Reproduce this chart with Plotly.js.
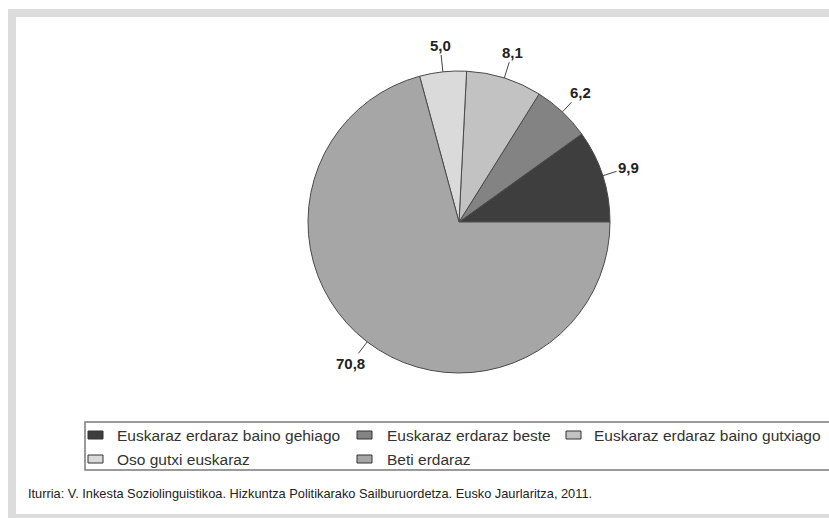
<!DOCTYPE html>
<html>
<head>
<meta charset="utf-8">
<script src="https://cdn.plot.ly/plotly-3.0.1.min.js"></script>
<style>html,body{margin:0;padding:0;background:#fff;}#chart{width:829px;height:518px;}</style>
</head>
<body>
<div id="chart"></div>
<script>
// Data
const categories = [
  "Euskaraz erdaraz baino gehiago",
  "Euskaraz erdaraz beste",
  "Euskaraz erdaraz baino gutxiago",
  "Oso gutxi euskaraz",
  "Beti erdaraz"
];
const values = [9.9, 6.2, 8.1, 5.0, 70.8];
const valueLabels = ["9,9", "6,2", "8,1", "5,0", "70,8"];
const sliceColors = ["#3e3e3e", "#838383", "#c2c2c2", "#dadada", "#a6a6a6"];
const sourceText = "Iturria: V. Inkesta Soziolinguistikoa. Hizkuntza Politikarako Sailburuordetza. Eusko Jaurlaritza, 2011.";

// Layout geometry (pixels)
const W = 829, H = 518;
const cx = 459, cy = 222, R = 151;
const px = x => x / W;
const py = y => 1 - y / H;
const total = values.reduce((a, b) => a + b, 0);

const trace = {
  type: "pie",
  values: values,
  labels: categories,
  sort: false,
  direction: "counterclockwise",
  rotation: 90 - values[0] / total * 360,
  textinfo: "none",
  hoverinfo: "label+value",
  showlegend: false,
  marker: {colors: sliceColors, line: {color: "#4a4a4a", width: 1}},
  domain: {x: [px(cx - R), px(cx + R)], y: [py(cy + R), py(cy - R)]}
};

// Value labels with leader lines, positioned at slice mid-angles
const annotations = [];
let cum = 0;
values.forEach((v, i) => {
  const mid = (cum + v / 2) / total * 2 * Math.PI;
  cum += v;
  const ex = cx + R * Math.cos(mid), ey = cy - R * Math.sin(mid);
  const d = 27;
  annotations.push({
    x: px(ex), y: py(ey), xref: "paper", yref: "paper",
    text: "<b>" + valueLabels[i] + "</b>",
    showarrow: true, arrowhead: 0, arrowwidth: 1, arrowcolor: "#444",
    ax: d * Math.cos(mid), ay: -d * Math.sin(mid), standoff: 0,
    font: {family: "Liberation Sans, Arial, sans-serif", size: 15, color: "#222"}
  });
});

// Frame and legend shapes
const shapes = [
  {type: "rect", xref: "paper", yref: "paper", x0: px(8), x1: px(835), y0: py(522), y1: py(9), fillcolor: "#dcdcdc", line: {width: 0}, layer: "below"},
  {type: "rect", xref: "paper", yref: "paper", x0: px(16), x1: px(835), y0: py(514), y1: py(17), fillcolor: "#ffffff", line: {width: 0}, layer: "below"},
  {type: "rect", xref: "paper", yref: "paper", x0: px(85), x1: px(840), y0: py(470), y1: py(422), fillcolor: "rgba(0,0,0,0)", line: {color: "#7a7a7a", width: 1.5}}
];
const colX = [88, 357, 566];
const textX = [115, 385, 592];
const rowY = [435, 459];
categories.forEach((c, i) => {
  const r = Math.floor(i / 3), col = i % 3;
  const sx = colX[col], sy = rowY[r];
  shapes.push({type: "rect", xref: "paper", yref: "paper", x0: px(sx), x1: px(sx + 15), y0: py(sy + 4), y1: py(sy - 4), fillcolor: sliceColors[i], line: {color: "#333", width: 1}});
  annotations.push({
    x: px(textX[col]), y: py(sy), xref: "paper", yref: "paper", xanchor: "left", yanchor: "middle",
    text: c, showarrow: false,
    font: {family: "Liberation Sans, Arial, sans-serif", size: 15.5, color: "#333"}
  });
});
annotations.push({
  x: px(26), y: py(493), xref: "paper", yref: "paper", xanchor: "left", yanchor: "middle",
  text: sourceText, showarrow: false,
  font: {family: "Liberation Sans, Arial, sans-serif", size: 12.8, color: "#222"}
});

const layout = {
  width: W, height: H,
  margin: {l: 0, r: 0, t: 0, b: 0},
  paper_bgcolor: "#ffffff",
  shapes: shapes,
  annotations: annotations
};
Plotly.newPlot("chart", [trace], layout, {displayModeBar: false, staticPlot: true});
</script>
</body>
</html>
